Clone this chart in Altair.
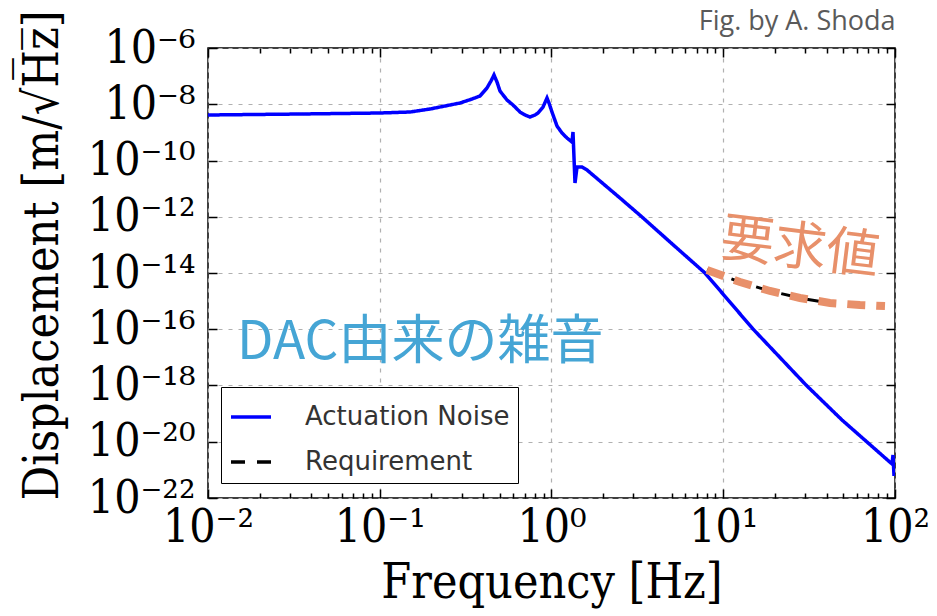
import json
import altair as alt
import pandas as pd

# Actuation (DAC) noise spectrum: frequency [Hz] and displacement [m/rtHz]
noise_freq = [0.01, 0.03434, 0.1, 0.1501, 0.1962, 0.2399, 0.2933, 0.3444, 0.3834,
              0.4210, 0.4444, 0.4626, 0.4816, 0.5012, 0.5507, 0.5968, 0.6556, 0.7008,
              0.7497, 0.8016, 0.8345, 0.8923, 0.9415, 0.9670, 1.0067, 1.0765, 1.1511,
              1.2309, 1.3161, 1.3340, 1.3703, 1.4076, 1.5052, 1.6096, 2.5051, 3.3650,
              4.8975, 7.8294, 14.899, 30.325, 49.14, 96.06, 97.35, 98.67]
noise_disp = [4.147e-9, 4.499e-9, 4.884e-9, 5.302e-9, 6.777e-9, 8.665e-9, 1.108e-8,
              1.537e-8, 1.965e-8, 3.782e-8, 6.709e-8, 1.096e-7, 6.183e-8, 2.958e-8,
              1.416e-8, 9.404e-9, 5.302e-9, 4.147e-9, 3.522e-9, 4.147e-9, 4.884e-9,
              7.98e-9, 1.668e-8, 1.108e-8, 5.302e-9, 1.685e-9, 9.50e-10, 6.31e-10,
              4.547e-10, 1.031e-9, 1.585e-11, 5.873e-11, 5.873e-11, 4.594e-11,
              4.642e-12, 9.797e-13, 1.265e-13, 1.0e-14, 1.021e-16, 1.042e-18,
              5.93e-20, 1.62e-21, 3.38e-21, 6.05e-22]

# Requirement curve
req_freq = [8.04, 12.52, 18.72, 27.98, 38.09]
req_disp = [1.28e-14, 4.79e-15, 2.29e-15, 1.29e-15, 9.3e-16]

# Hand-drawn highlight over the requirement
band_freq = [8.04, 12.52, 18.72, 27.98, 41.83, 62.55, 87.46]
band_disp = [1.28e-14, 4.79e-15, 2.29e-15, 1.29e-15, 8.6e-16, 7.3e-16, 6.7e-16]

series_names = ["Actuation Noise", "Requirement"]
series_colors = ["#0000ff", "#000000"]
series_dashes = [[1, 0], [14, 12]]

x_major = [0.01, 0.1, 1, 10, 100]
x_minor = [m * d for d in [0.01, 0.1, 1, 10] for m in range(2, 10)]
x_tick_labels = ["10⁻²", "10⁻¹", "10⁰", "10¹", "10²"]
y_ticks = [1e-22, 1e-20, 1e-18, 1e-16, 1e-14, 1e-12, 1e-10, 1e-8, 1e-6]
y_tick_labels = ["10⁻²²", "10⁻²⁰", "10⁻¹⁸", "10⁻¹⁶", "10⁻¹⁴", "10⁻¹²",
                 "10⁻¹⁰", "10⁻⁸", "10⁻⁶"]

noise_label = "DAC由来の雑音"
noise_label_at = (0.01476, 3.24e-17)
req_label = "要求値"
req_label_at = (27.98, 7.2e-14)

SERIF = "DejaVu Serif Condensed, DejaVu Serif"
ORANGE = "#E8906A"

noise_df = pd.DataFrame({"freq": noise_freq, "disp": noise_disp,
                         "series": series_names[0], "idx": range(len(noise_freq))})
req_df = pd.DataFrame({"freq": req_freq, "disp": req_disp,
                       "series": series_names[1], "idx": range(len(req_freq))})
band_df = pd.DataFrame({"freq": band_freq, "disp": band_disp})

x_scale = alt.Scale(type="log", domain=[0.01, 100])
y_scale = alt.Scale(type="log", domain=[1e-22, 1e-6])

decade = "log(datum.value)/LN10"
is_minor = f"abs({decade} - round({decade})) > 0.001"
minor_dash = {"condition": {"test": is_minor, "value": [0, 4, 5]}, "value": [1, 0]}
TICK = 9

bottom_axis = alt.Axis(
    orient="bottom", values=x_major + x_minor, offset=-TICK, domain=False,
    tickSize=TICK, tickDash=minor_dash, tickColor="black", tickWidth=1.5,
    labelExpr=f"{is_minor} ? '' : {json.dumps(x_tick_labels)}[round({decade}) + 2]",
    labelPadding=7, labelFlush=False, labelOverlap=False,
    grid=True, gridOpacity={"condition": {"test": is_minor, "value": 0}, "value": 1},
    gridDash=[4, 6], gridColor="#b0b0b0", gridWidth=1.2,
    titlePadding=9,
)
left_axis = alt.Axis(
    orient="left", values=y_ticks, offset=-TICK, domain=False,
    tickSize=TICK, tickColor="black", tickWidth=1.5,
    labelExpr=f"{json.dumps(y_tick_labels)}[(round({decade}) + 22) / 2]",
    labelPadding=13, labelFlush=False, labelOverlap=False,
    grid=True, gridDash=[4, 6], gridColor="#b0b0b0", gridWidth=1.2,
    titlePadding=20, titleY=207,
)
top_axis = alt.Axis(
    orient="top", values=x_major + x_minor, offset=-TICK, domain=False,
    tickSize=TICK, tickDash=minor_dash, tickColor="black", tickWidth=1.5,
    labels=False, grid=False, title=None,
)
right_axis = alt.Axis(
    orient="right", values=y_ticks, offset=-TICK, domain=False,
    tickSize=TICK, tickColor="black", tickWidth=1.5,
    labels=False, grid=False, title=None,
)

color = alt.Color("series:N", scale=alt.Scale(domain=series_names, range=series_colors), title=None)
dash = alt.StrokeDash("series:N", scale=alt.Scale(domain=series_names, range=series_dashes), title=None)

noise = alt.Chart(noise_df).mark_line(strokeWidth=3.5, clip=True).encode(
    x=alt.X("freq:Q", scale=x_scale, axis=bottom_axis, title="Frequency [Hz]"),
    y=alt.Y("disp:Q", scale=y_scale, axis=left_axis, title="Displacement [m/√H̅z̅]"),
    color=color, strokeDash=dash, order="idx:Q",
)

req = alt.Chart(req_df).mark_line(strokeWidth=3).encode(
    x=alt.X("freq:Q", scale=x_scale, axis=top_axis),
    y=alt.Y("disp:Q", scale=y_scale, axis=right_axis),
    color=color, strokeDash=dash, order="idx:Q",
)

band = alt.Chart(band_df).mark_line(color=ORANGE, strokeWidth=8, strokeDash=[18, 11]).encode(
    x=alt.X("freq:Q", scale=x_scale, axis=None),
    y=alt.Y("disp:Q", scale=y_scale, axis=None),
)

noise_text = alt.Chart(pd.DataFrame({"freq": [noise_label_at[0]], "disp": [noise_label_at[1]],
                                     "label": [noise_label]})).mark_text(
    align="left", baseline="middle", font="Noto Sans CJK JP", fontSize=53, color="#45A5D5",
).encode(
    x=alt.X("freq:Q", scale=x_scale, axis=None),
    y=alt.Y("disp:Q", scale=y_scale, axis=None),
    text="label:N",
)

req_text = alt.Chart(pd.DataFrame({"freq": [req_label_at[0]], "disp": [req_label_at[1]],
                                   "label": [req_label]})).mark_text(
    align="center", baseline="middle", font="Noto Sans CJK JP", fontSize=53, color=ORANGE, angle=7,
).encode(
    x=alt.X("freq:Q", scale=x_scale, axis=None),
    y=alt.Y("disp:Q", scale=y_scale, axis=None),
    text="label:N",
)

chart = alt.layer(noise, req, band, noise_text, req_text).resolve_axis(
    x="independent", y="independent"
).properties(
    width=687, height=450,
    autosize=alt.AutoSizeParams(type="none"),
    padding={"left": 208, "top": 48, "right": 42, "bottom": 118},
    title=alt.TitleParams(text="Fig. by A. Shoda", anchor="end", font="Open Sans",
                          fontSize=27, fontWeight="normal", color="#5a5a5a",
                          offset=12, dy=38, dx=-34),
).configure_view(
    stroke="black", strokeWidth=1.5,
).configure_axis(
    labelFont=SERIF, labelFontSize=46, labelColor="black",
    titleFont=SERIF, titleFontSize=48, titleFontWeight="normal", titleColor="black",
).configure_legend(
    orient="none", legendX=13, legendY=339,
    strokeColor="black", fillColor="white", padding=8, rowPadding=10,
    symbolType="stroke", symbolSize=1600, symbolStrokeWidth=3.5,
    labelFont="DejaVu Sans", labelFontSize=26, labelColor="#333333", labelOffset=32,
    labelLimit=400,
)

chart.save("out.html", embed_options={"renderer": "svg", "actions": False})
